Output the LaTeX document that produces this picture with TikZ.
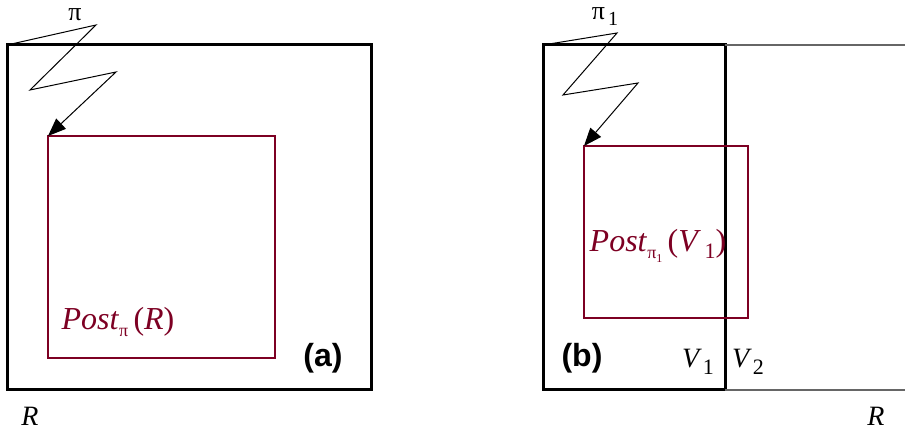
\documentclass[tikz,border=0pt]{standalone}
\usepackage{fontspec}
\setmainfont{Liberation Serif}
\newfontfamily\tagfont{Liberation Sans}
\usetikzlibrary{arrows.meta}
\definecolor{postred}{RGB}{125,0,35}
\newcommand\lowsub[2][9]{\raisebox{-.5ex}{\fontsize{#1}{#1}\selectfont #2}}
\tikzset{
  region/.style={rectangle,draw=black,line width=1.5pt,inner sep=0pt,outer sep=0pt},
  postset/.style={rectangle,draw=postred,line width=1.3pt,inner sep=0pt,outer sep=0pt},
  rest/.style={draw=black!60,line width=.7pt},
  zig/.style={-{Triangle[length=9pt,width=7pt]},line width=.5pt},
  lbl/.style={font=\fontsize{14}{14}\selectfont\itshape,inner sep=0pt},
  postlbl/.style={font=\fontsize{16}{16}\selectfont,text=postred,inner sep=0pt},
  tag/.style={font=\tagfont\bfseries\fontsize{16}{16}\selectfont,inner sep=0pt}}

\begin{document}
\begin{tikzpicture}[x=0.5pt,y=-0.5pt]
  \useasboundingbox (0,0) rectangle (905,431);
  % (a)
  \node[region,minimum width=182pt,minimum height=172.5pt] (ra) at (189,217.5) {};
  \node[postset,minimum width=113.5pt,minimum height=111pt] (pa) at (161.5,247) {};
  \node[font=\fontsize{13}{13}\selectfont,inner sep=0pt] (pia) at (75,15) {π};
  \node[postlbl] (posta) at (118,322) {\textit{Post}\lowsub{π}\,(\textit{R})};
  \node[tag] (taga) at (323,358) {(a)};
  \node[lbl] (Ra) at (30,416) {R};
  \draw[zig] (ra.north west) -- (96,25) -- (30,90) -- (116,72) -- (pa.north west);
  % (b)
  \node[region,minimum width=91pt,minimum height=172.5pt] (v1) at (634,217.5) {};
  \node[postset,minimum width=82pt,minimum height=86pt] (pb) at (666,232) {};
  \coordinate (topend) at (905,45);
  \coordinate (botend) at (905,390);
  \draw[rest] (v1.north east) -- (topend);
  \draw[rest] (v1.south east) -- (botend);
  \node[font=\fontsize{13}{13}\selectfont,inner sep=0pt] (pib) at (605,17) {π\lowsub[10]{\,1}};
  \node[postlbl] (postb) at (658,246)
    {\textit{Post}\lowsub{π\lowsub[6]{1}}\,(\textit{V}\lowsub[11]{\,1})};
  \node[tag] (tagb) at (582,358) {(b)};
  \node[lbl] (V1) at (698,362) {V\lowsub[11]{\,\upshape 1}};
  \node[lbl] (V2) at (748,362) {V\lowsub[11]{\,\upshape 2}};
  \node[lbl] (Rb) at (876,416) {R};
  \draw[zig] (v1.north west) -- (617,33) -- (563,95) -- (638,83) -- (pb.north west);
\end{tikzpicture}
\end{document}
